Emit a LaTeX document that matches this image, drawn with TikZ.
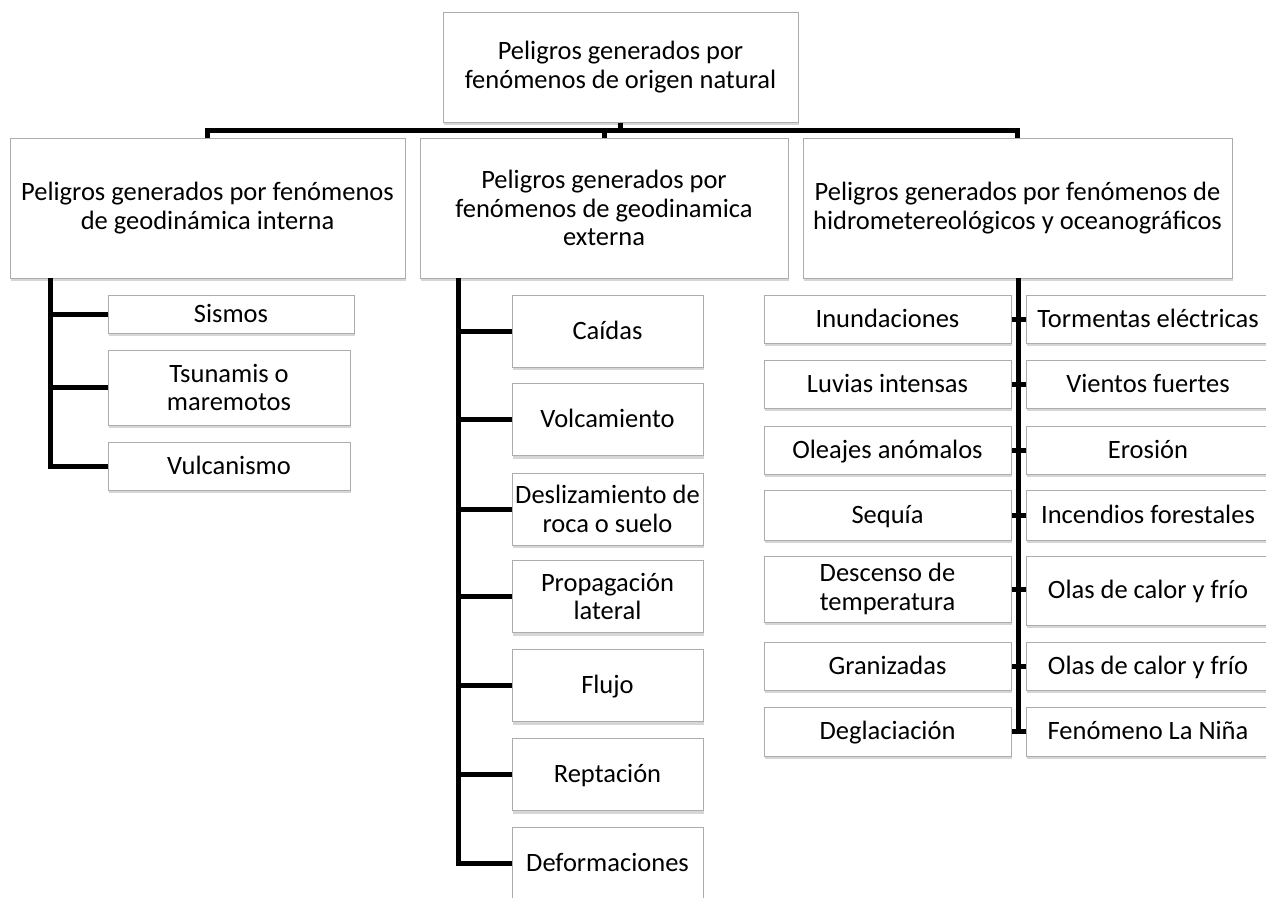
\documentclass[tikz,border=0pt]{standalone}
\usepackage{fontspec}
\setmainfont{Carlito}
\usetikzlibrary{shadows}
\begin{document}
\begin{tikzpicture}[x=1pt,y=-1pt,
  box/.style={draw=gray!65, line width=1pt, fill=white, align=center, inner sep=0pt,
    font=\fontsize{26.5}{28.5}\selectfont,
    drop shadow={shadow xshift=1pt, shadow yshift=-3pt, fill=black, opacity=0.16}},
  sl/.style={text height=20pt, text depth=4pt},
  ml/.style={},
  conn/.style={line width=5pt, black, line join=miter}]
\useasboundingbox (0,0) rectangle (1266,897);
% top and headers
\node[box, minimum width=355pt, minimum height=110pt] (top) at (620.5,67) {Peligros generados por\\fenómenos de origen natural};
\node[box, minimum width=395pt, minimum height=140pt] (h1) at (207.5,208) {Peligros generados por fenómenos\\de geodinámica interna};
\node[box, minimum width=368pt, minimum height=140pt] (h2) at (604,208) {Peligros generados por\\fenómenos de geodinamica\\externa};
\node[box, minimum width=429pt, minimum height=140pt] (h3) at (1017.5,208) {Peligros generados por fenómenos de\\hidrometereológicos y oceanográficos};
% left children
\node[box, sl, minimum width=246pt, minimum height=38pt] (s1) at (231,314) {Sismos};
\node[box, minimum width=242pt, minimum height=75pt] (s2) at (229,387.5) {Tsunamis o\\maremotos};
\node[box, sl, minimum width=242pt, minimum height=48pt] (s3) at (229,466) {Vulcanismo};
% middle children
\foreach \n/\y/\s/\t in {m1/331/sl/{Caídas}, m2/419.5/sl/{Volcamiento}, m3/509/ml/{Deslizamiento de\\roca o suelo}, m4/596.5/ml/{Propagación\\lateral}, m5/685.5/sl/{Flujo}, m6/774.5/sl/{Reptación}, m7/863/sl/{Deformaciones}}
  \node[box, \s, minimum width=191pt, minimum height=72pt] (\n) at (607.5,\y) {\t};
% right children
\foreach \n/\y/\h/\s/\t in {a1/319/48/sl/{Inundaciones}, a2/384/48/sl/{Luvias intensas}, a3/450/48/sl/{Oleajes anómalos}, a4/515/50/sl/{Sequía}, a5/589/66/ml/{Descenso de\\temperatura}, a6/666/48/sl/{Granizadas}, a7/731.5/49/sl/{Deglaciación}}
  \node[box, \s, minimum width=247pt, minimum height=\h pt] (\n) at (887.5,\y) {\t};
\foreach \n/\y/\h/\t in {b1/319/48/{Tormentas eléctricas}, b2/384/48/{Vientos fuertes}, b3/450/48/{Erosión}, b4/515/50/{Incendios forestales}, b5/590.5/69/{Olas de calor y frío}, b6/666/48/{Olas de calor y frío}, b7/731.5/49/{Fenómeno La Niña}}
  \node[box, sl, minimum width=244pt, minimum height=\h pt] (\n) at (1148,\y) {\t};
% connectors top
\coordinate (bar) at (0,130);
\draw[conn] (h1.north) -- (h1.north |- bar) -- (h3.north |- bar) -- (h3.north);
\draw[conn] (top.south) -- (top.south |- bar);
\draw[conn] (h2.north) -- (h2.north |- bar);
% left trunk
\coordinate (t1) at (50,278);
\draw[conn] (t1) |- (s3.west);
\foreach \n in {s1,s2} \draw[conn] (t1 |- \n.west) -- (\n.west);
% middle trunk
\coordinate (t2) at (458,278);
\draw[conn] (t2) |- (m7.west);
\foreach \n in {m1,m2,m3,m4,m5,m6} \draw[conn] (t2 |- \n.west) -- (\n.west);
% right trunk
\coordinate (t3) at (1018,278);
\draw[conn] (t3) -- (t3 |- a7.east);
\foreach \a/\b in {a1/b1,a2/b2,a3/b3,a4/b4,a5/b5,a6/b6,a7/b7} \draw[conn] (\a.east) -- (\a.east -| \b.west);
\end{tikzpicture}
\end{document}
